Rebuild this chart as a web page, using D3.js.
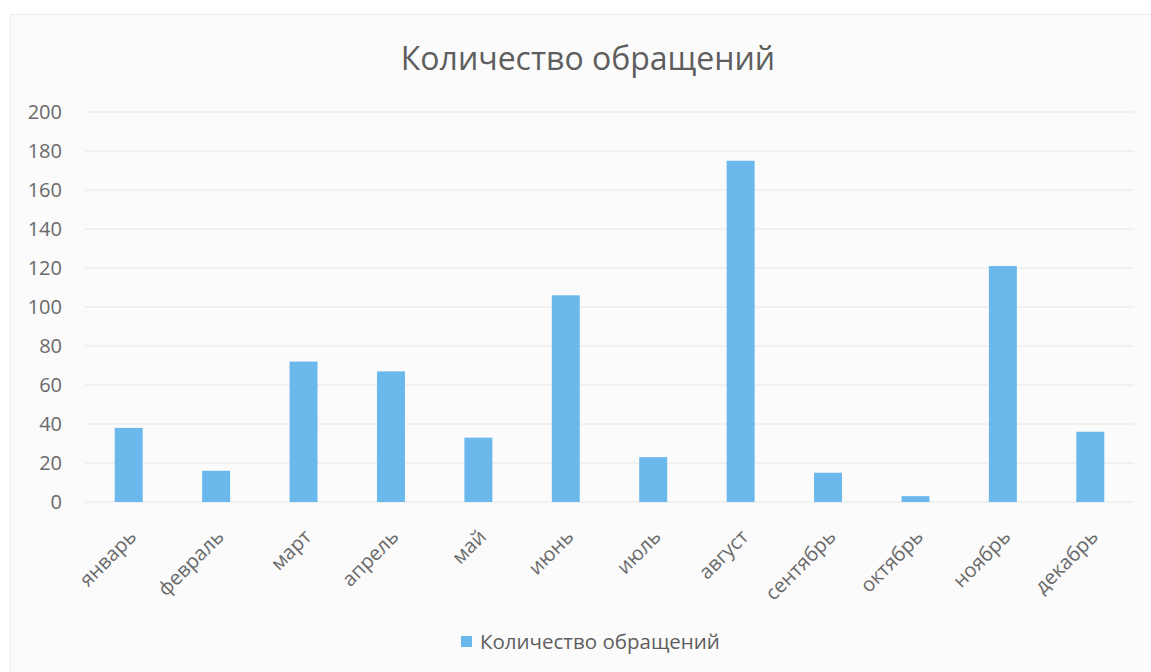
<!DOCTYPE html>
<html>
<head>
<meta charset="utf-8">
<script src="https://cdn.jsdelivr.net/npm/d3@7"></script>
<style>
  body { margin: 0; background: #ffffff; }
  svg { display: block; font-family: "Open Sans", sans-serif; }
</style>
</head>
<body>
<div id="chart"></div>
<script>
  'use strict';
  var WIDTH = 1151;
  var HEIGHT = 672;
  var TITLE = 'Количество обращений';
  var SERIES = 'Количество обращений';

  var months = ['январь', 'февраль', 'март', 'апрель', 'май', 'июнь',
    'июль', 'август', 'сентябрь', 'октябрь', 'ноябрь', 'декабрь'];
  var counts = [38, 16, 72, 67, 33, 106, 23, 175, 15, 3, 121, 36];
  var yTicks = [0, 20, 40, 60, 80, 100, 120, 140, 160, 180, 200];

  var margin = {top: 112, right: 17, bottom: 170, left: 85};
  var width = WIDTH - margin.left - margin.right;
  var height = HEIGHT - margin.top - margin.bottom;

  var svg = d3.select('#chart').append('svg')
    .attr('width', WIDTH)
    .attr('height', HEIGHT);

  // chart area frame
  svg.append('rect')
    .attr('x', 10.5).attr('y', 14.5)
    .attr('width', WIDTH - 10).attr('height', HEIGHT - 10)
    .attr('fill', '#fbfbfb')
    .attr('stroke', '#ececec');

  svg.append('text')
    .attr('x', 588)
    .attr('y', 70)
    .attr('text-anchor', 'middle')
    .attr('fill', '#5e5e5e')
    .style('font-size', '32px')
    .text(TITLE);

  var g = svg.append('g')
    .attr('transform', 'translate(' + margin.left + ',' + margin.top + ')');

  var x = d3.scaleBand().domain(months).range([0, width]).paddingInner(0.68).paddingOuter(0.34);
  var y = d3.scaleLinear().domain([0, 200]).range([height, 0]);

  // gridlines
  g.append('g')
    .selectAll('line')
    .data(yTicks)
    .join('line')
    .attr('x1', 0).attr('x2', width)
    .attr('y1', function(d) { return y(d); })
    .attr('y2', function(d) { return y(d); })
    .attr('stroke', '#e6e6e6')
    .attr('stroke-width', 1);

  var yAxis = g.append('g')
    .attr('transform', 'translate(-23,0)')
    .call(d3.axisLeft(y).tickValues(yTicks).tickSize(0).tickPadding(0));
  yAxis.select('.domain').remove();
  yAxis.selectAll('text')
    .attr('fill', '#6a6a6a')
    .style('font-size', '20px')
    .style('font-family', '"Open Sans", sans-serif');

  g.selectAll('rect.bar')
    .data(counts)
    .join('rect')
    .attr('class', 'bar')
    .attr('x', function(d, i) { return x(months[i]); })
    .attr('y', function(d) { return y(d); })
    .attr('width', x.bandwidth())
    .attr('height', function(d) { return height - y(d); })
    .attr('fill', '#6bb9ec');

  var xAxis = g.append('g')
    .attr('transform', 'translate(0,' + height + ')')
    .call(d3.axisBottom(x).tickSize(0));
  xAxis.select('.domain').remove();
  xAxis.selectAll('text')
    .attr('fill', '#6a6a6a')
    .style('font-size', '20px')
    .style('font-family', '"Open Sans", sans-serif')
    .attr('text-anchor', 'end')
    .attr('y', 0)
    .attr('dy', '0')
    .attr('transform', 'translate(9,36) rotate(-45)');

  var legend = svg.append('g').attr('transform', 'translate(461,642)');
  legend.append('rect')
    .attr('x', 0).attr('y', -6)
    .attr('width', 11).attr('height', 11)
    .attr('fill', '#6bb9ec');
  legend.append('text')
    .attr('x', 19).attr('y', 0)
    .attr('dy', '0.35em')
    .attr('fill', '#5e5e5e')
    .style('font-size', '20.5px')
    .text(SERIES);
</script>
</body>
</html>
